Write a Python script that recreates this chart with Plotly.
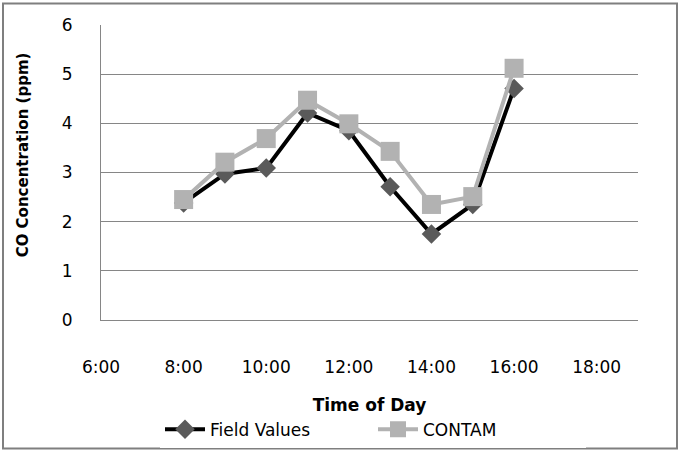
import plotly.graph_objects as go

hours = [8, 9, 10, 11, 12, 13, 14, 15, 16]
field_values = [2.38, 2.97, 3.09, 4.21, 3.85, 2.71, 1.75, 2.35, 4.71]
contam_values = [2.45, 3.21, 3.69, 4.47, 3.99, 3.43, 2.35, 2.51, 5.12]
x_tick_vals = [6, 8, 10, 12, 14, 16, 18]
x_tick_text = ["6:00", "8:00", "10:00", "12:00", "14:00", "16:00", "18:00"]
y_tick_vals = [0, 1, 2, 3, 4, 5, 6]

W, H = 680, 460
L, R, T, B = 101, 42, 25, 134
pw, ph = W - L - R, H - T - B

fig = go.Figure()
fig.add_trace(go.Scatter(
    x=hours, y=field_values, name="Field Values", mode="lines+markers",
    line=dict(color="#000000", width=4),
    marker=dict(symbol="diamond", size=15, color="#5a5a5a"),
))
fig.add_trace(go.Scatter(
    x=hours, y=contam_values, name="CONTAM", mode="lines+markers",
    line=dict(color="#b2b2b2", width=4),
    marker=dict(symbol="square", size=19, color="#b2b2b2"),
))

def px_x(p):
    return (p - L) / pw

def px_y(p):
    return (H - B - p) / ph

fig.update_layout(
    width=W, height=H,
    margin=dict(l=L, r=R, t=T, b=B),
    paper_bgcolor="white", plot_bgcolor="white",
    showlegend=True,
    legend=dict(
        orientation="h", x=px_x(160), y=px_y(438), xanchor="left", yanchor="middle",
        font=dict(family="DejaVu Sans", size=17, color="#000"),
        itemwidth=40, tracegroupgap=0, entrywidth=158, entrywidthmode="pixels",
    ),
    xaxis=dict(
        range=[6, 19], tickvals=x_tick_vals, ticktext=x_tick_text,
        showgrid=False, zeroline=False, showline=True, linecolor="#868686", linewidth=1,
        ticks="", tickfont=dict(family="DejaVu Sans", size=17, color="#000"),
        ticklabelstandoff=32,
        title=dict(text="<b>Time of Day</b>", font=dict(family="DejaVu Sans", size=17, color="#000"), standoff=22),
    ),
    yaxis=dict(
        range=[0, 6], tickvals=y_tick_vals,
        showgrid=True, gridcolor="#868686", gridwidth=1,
        zeroline=False, showline=True, linecolor="#868686", linewidth=1,
        ticks="", tickfont=dict(family="DejaVu Sans", size=17, color="#000"),
        ticklabelstandoff=24,
    ),
    annotations=[dict(
        text="<b>CO Concentration (ppm)</b>", xref="paper", yref="paper",
        x=px_x(23), y=px_y(157), xanchor="center", yanchor="middle",
        textangle=-90, showarrow=False,
        font=dict(family="DejaVu Sans", size=15, color="#000"),
    )],
    shapes=[dict(
        type="rect", xref="paper", yref="paper",
        x0=px_x(3), x1=px_x(677), y0=px_y(457), y1=px_y(3),
        line=dict(color="#7f7f7f", width=2), fillcolor="rgba(0,0,0,0)", layer="below",
    )],
)

fig.write_html("out.html")
